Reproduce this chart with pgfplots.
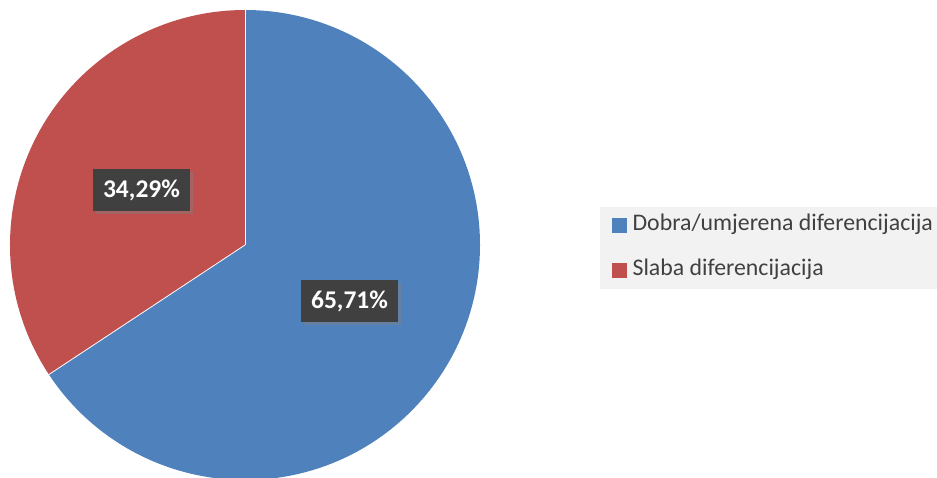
\documentclass[border=0pt]{standalone}
\usepackage{pgfplots}
\pgfplotsset{compat=1.18}
\usepackage{fontspec}
\setmainfont{Carlito}
\usetikzlibrary{shadows}

\definecolor{PieBlue}{HTML}{4F81BD}
\definecolor{PieRed}{HTML}{C0504D}
\definecolor{LabelBg}{HTML}{404040}
\definecolor{LegendBg}{HTML}{F2F2F2}
\definecolor{TextGrey}{HTML}{404040}

% shares in percent
\newcommand\valA{65.71} % Dobra/umjerena diferencijacija
\newcommand\valB{34.29} % Slaba diferencijacija

\begin{document}
\begin{tikzpicture}
  \clip (0,0) rectangle (937pt,477pt);
  \begin{axis}[
    at={(0,0)}, anchor=south west,
    width=937pt, height=477pt, scale only axis,
    xmin=0, xmax=937, ymin=0, ymax=477,
    hide axis, clip=true,
    legend cell align=left,
    legend style={
      at={(axis cs:600,270)}, anchor=north west,
      fill=LegendBg, draw=none,
      font=\fontsize{23.8}{23.8}\selectfont, text=TextGrey,
      inner xsep=12pt, inner ysep=8.5pt,
      row sep=25pt, column sep=6pt,
      nodes={text height=15pt, text depth=5pt, inner xsep=0pt, inner ysep=0pt},
    },
  ]
    \pgfmathsetmacro\angA{90-3.6*\valA}
    \fill[PieBlue] (axis cs:245,232) -- ++(90:235pt)
      arc[start angle=90, end angle=\angA, radius=235pt] -- cycle;
    \fill[PieRed] (axis cs:245,232) -- ++(\angA:235pt)
      arc[start angle=\angA, end angle=-270, radius=235pt] -- cycle;
    \draw[white, line width=0.8pt] (axis cs:245,232) -- ++(90:235pt);
    \draw[white, line width=0.8pt] (axis cs:245,232) -- ++(\angA:235pt);

    \node[fill=LabelBg, text=white, font=\bfseries\fontsize{25.5}{25.5}\selectfont,
      minimum width=97pt, minimum height=42pt, inner sep=0pt,
      drop shadow={opacity=0.45, shadow xshift=3pt, shadow yshift=-3pt}]
      at (axis cs:141.5,287) {34,29\%};
    \node[fill=LabelBg, text=white, font=\bfseries\fontsize{25.5}{25.5}\selectfont,
      minimum width=97pt, minimum height=42pt, inner sep=0pt,
      drop shadow={opacity=0.45, shadow xshift=3pt, shadow yshift=-3pt}]
      at (axis cs:349.5,176) {65,71\%};

    \addlegendimage{legend image code/.code={\fill[PieBlue] (0pt,-7pt) rectangle (14pt,7pt);}}
    \addlegendentry{Dobra/umjerena diferencijacija}
    \addlegendimage{legend image code/.code={\fill[PieRed] (0pt,-7pt) rectangle (14pt,7pt);}}
    \addlegendentry{Slaba diferencijacija}
  \end{axis}
\end{tikzpicture}
\end{document}
